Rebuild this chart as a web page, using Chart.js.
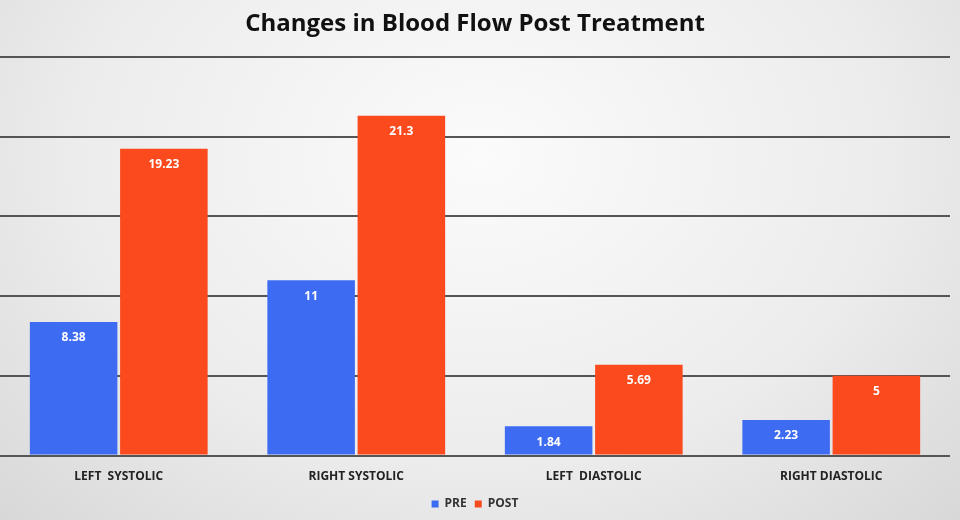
<!DOCTYPE html>
<html>
<head>
<script src="https://cdn.jsdelivr.net/npm/chart.js@4"></script>
<style>
  html, body { margin: 0; padding: 0; }
  body {
    width: 960px; height: 520px; overflow: hidden;
    background: radial-gradient(ellipse at 50% 30%, #fbfbfb 0%, #ececec 60%, #d8d8d8 100%);
  }
  #wrap { position: relative; width: 960px; height: 520px; }
</style>
</head>
<body>
<div id="wrap"><canvas id="chart"></canvas></div>
<script>
/* DATA */
const categories = ["LEFT  SYSTOLIC", "RIGHT SYSTOLIC", "LEFT  DIASTOLIC", "RIGHT DIASTOLIC"];
const preValues = [8.38, 11, 1.84, 2.23];
const postValues = [19.23, 21.3, 5.69, 5];

/* labels inside top of bars */
const valueLabels = {
  id: "valueLabels",
  afterDatasetsDraw(chart) {
    const ctx = chart.ctx;
    ctx.save();
    ctx.fillStyle = "#ffffff";
    ctx.font = "bold 12px 'Open Sans', sans-serif";
    ctx.textAlign = "center";
    ctx.textBaseline = "middle";
    chart.data.datasets.forEach((ds, i) => {
      chart.getDatasetMeta(i).data.forEach((bar, j) => {
        ctx.fillText(String(ds.data[j]), bar.x, bar.y + 16);
      });
    });
    ctx.restore();
  }
};

new Chart(document.getElementById("chart"), {
  type: "bar",
  data: {
    labels: categories,
    datasets: [
      { label: "PRE", data: preValues, backgroundColor: "#3d6cf2" },
      { label: "POST", data: postValues, backgroundColor: "#fa4a1e" }
    ]
  },
  options: {
    responsive: true,
    maintainAspectRatio: false,
    animation: false,
    layout: { padding: { top: 4, left: 0, right: 10, bottom: 0 } },
    datasets: { bar: { categoryPercentage: 0.76, barPercentage: 0.97 } },
    scales: {
      x: {
        grid: { display: false },
        border: { display: false },
        ticks: { color: "#222", font: { size: 12, weight: "bold", family: "'Open Sans', sans-serif" }, padding: 6 }
      },
      y: {
        min: 0, max: 25,
        ticks: { display: false, stepSize: 5 },
        border: { display: false },
        grid: { color: "#555", lineWidth: 2, drawTicks: false }
      }
    },
    plugins: {
      title: {
        display: true,
        text: "Changes in Blood Flow Post Treatment",
        color: "#111",
        font: { size: 24, weight: "bold", family: "'Open Sans', sans-serif" },
        padding: { top: 6, bottom: 18 }
      },
      legend: {
        position: "bottom",
        labels: {
          boxWidth: 7, boxHeight: 7, color: "#333", padding: 8,
          font: { size: 12, weight: "bold", family: "'Open Sans', sans-serif" }
        }
      },
      tooltip: { enabled: false }
    }
  },
  plugins: [valueLabels]
});
</script>
</body>
</html>
